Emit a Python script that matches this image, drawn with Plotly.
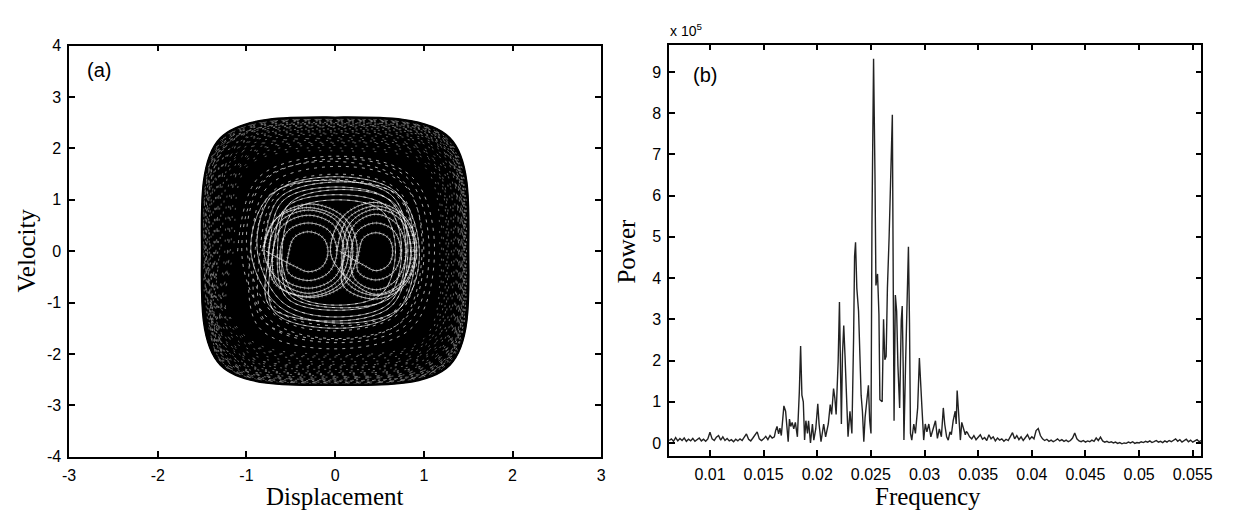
import plotly.graph_objects as go

# ---------------- Panel (a): phase portrait (displacement, velocity) ----------------
# Outermost orbit of the attractor (its envelope), traced clockwise
ENVELOPE_X = [-1.50, -1.29, 0.00, 1.29, 1.50, 1.29, 0.00, -1.29, -1.50]
ENVELOPE_V = [0.00, 2.20, 2.60, 2.20, 0.00, -2.21, -2.60, -2.21, 0.00]

# Outer (large) loops of the trajectory, traced clockwise, 8 samples per loop
OUTER_X = [
    -1.48, -1.26, 0.10, 1.25, 1.47, 1.25, -0.10, -1.26,
    -1.42, -1.21, -0.05, 1.22, 1.44, 1.22, 0.15, -1.21,
    -1.50, -1.28, 0.20, 1.26, 1.48, 1.26, 0.00, -1.28,
    -1.35, -1.15, 0.05, 1.19, 1.40, 1.19, -0.20, -1.15,
    -1.45, -1.23, -0.15, 1.24, 1.46, 1.24, 0.10, -1.23,
    -1.30, -1.11, 0.15, 1.14, 1.34, 1.14, -0.05, -1.11,
    -1.46, -1.24, 0.00, 1.21, 1.42, 1.21, 0.20, -1.24,
    -1.38, -1.17, 0.25, 1.23, 1.45, 1.23, -0.15, -1.17,
    -1.49, -1.27, -0.10, 1.27, 1.49, 1.27, 0.05, -1.27,
    -1.25, -1.06, 0.10, 1.09, 1.28, 1.09, -0.10, -1.06,
    -1.44, -1.22, -0.20, 1.17, 1.38, 1.17, 0.25, -1.22,
    -1.40, -1.19, 0.15, 1.25, 1.47, 1.25, 0.00, -1.19,
    -1.33, -1.13, -0.05, 1.16, 1.36, 1.16, 0.10, -1.13,
    -1.47, -1.25, 0.05, 1.23, 1.45, 1.23, -0.20, -1.25,
    -1.20, -1.02, 0.20, 1.04, 1.22, 1.04, 0.05, -1.02,
    -1.43, -1.22, -0.10, 1.20, 1.41, 1.20, 0.15, -1.22,
    -1.36, -1.16, 0.00, 1.22, 1.43, 1.22, -0.10, -1.16,
    -1.50, -1.28, 0.10, 1.24, 1.46, 1.24, 0.20, -1.28,
    -1.28, -1.09, -0.15, 1.11, 1.31, 1.11, 0.00, -1.09,
    -1.41, -1.20, 0.20, 1.26, 1.48, 1.26, -0.05, -1.20,
    -1.46, -1.24, -0.05, 1.18, 1.39, 1.18, 0.10, -1.24,
    -1.15, -0.98, 0.10, 1.00, 1.18, 1.00, -0.15, -0.98,
    -1.39, -1.18, 0.05, 1.21, 1.42, 1.21, 0.15, -1.18,
    -1.48, -1.26, -0.20, 1.28, 1.50, 1.28, -0.05, -1.26,
    -1.32, -1.12, 0.15, 1.08, 1.27, 1.08, 0.05, -1.12,
    -1.20, -1.02, -0.10, 1.06, 1.25, 1.06, 0.20, -1.02,
    -1.47, -1.25, 0.10, 1.22, 1.44, 1.22, -0.10, -1.25,
    -1.37, -1.16, 0.00, 1.18, 1.39, 1.18, 0.10, -1.16,
    -1.44, -1.22, 0.25, 1.27, 1.49, 1.27, -0.15, -1.22,
    -1.22, -1.04, -0.05, 1.07, 1.26, 1.07, 0.00, -1.04,
    -1.49, -1.27, 0.15, 1.22, 1.43, 1.22, 0.20, -1.27,
    -1.34, -1.14, -0.15, 1.13, 1.33, 1.13, 0.05, -1.14,
    -1.45, -1.23, 0.05, 1.25, 1.47, 1.25, -0.10, -1.23,
    -1.18, -1.00, 0.20, 1.02, 1.20, 1.02, 0.10, -1.00,
    -1.42, -1.21, -0.10, 1.24, 1.46, 1.24, 0.15, -1.21,
    -1.48, -1.26, 0.00, 1.23, 1.45, 1.23, -0.05, -1.26,
    -1.46,
]
OUTER_V = [
    0.05, 2.17, 2.55, 2.17, -0.05, -2.19, -2.58, -2.19,
    -0.10, 2.11, 2.48, 2.11, 0.10, -2.13, -2.50, -2.13,
    0.15, 2.19, 2.58, 2.19, -0.15, -2.17, -2.55, -2.17,
    0.00, 2.00, 2.35, 2.00, 0.20, -2.06, -2.42, -2.06,
    -0.20, 2.14, 2.52, 2.14, 0.00, -2.18, -2.56, -2.18,
    0.10, 1.91, 2.25, 1.91, -0.10, -1.96, -2.30, -1.96,
    0.20, 2.08, 2.45, 2.08, 0.05, -2.10, -2.47, -2.10,
    -0.05, 2.04, 2.40, 2.04, -0.20, -2.14, -2.52, -2.14,
    0.10, 2.18, 2.57, 2.18, 0.15, -2.20, -2.59, -2.20,
    -0.15, 1.83, 2.15, 1.83, 0.00, -1.87, -2.20, -1.87,
    0.05, 2.06, 2.42, 2.06, -0.15, -2.02, -2.38, -2.02,
    0.25, 2.13, 2.50, 2.13, 0.10, -2.08, -2.45, -2.08,
    -0.10, 1.96, 2.30, 1.96, 0.20, -1.98, -2.33, -1.98,
    0.00, 2.15, 2.53, 2.15, -0.05, -2.18, -2.57, -2.18,
    0.15, 1.74, 2.05, 1.74, -0.10, -1.79, -2.10, -1.79,
    -0.20, 2.07, 2.44, 2.07, 0.15, -2.11, -2.48, -2.11,
    0.05, 2.02, 2.38, 2.02, -0.20, -2.04, -2.40, -2.04,
    -0.05, 2.18, 2.56, 2.18, 0.05, -2.15, -2.53, -2.15,
    0.20, 1.87, 2.20, 1.87, 0.10, -1.91, -2.25, -1.91,
    -0.15, 2.10, 2.47, 2.10, -0.10, -2.17, -2.55, -2.17,
    0.10, 2.07, 2.43, 2.07, 0.20, -2.07, -2.44, -2.07,
    0.00, 1.66, 1.95, 1.66, 0.00, -1.70, -2.00, -1.70,
    -0.25, 2.01, 2.36, 2.01, -0.05, -2.01, -2.37, -2.01,
    0.10, 2.19, 2.58, 2.19, 0.10, -2.18, -2.57, -2.18,
    0.05, 1.85, 2.18, 1.85, -0.20, -1.89, -2.22, -1.89,
    -0.10, 1.79, 2.10, 1.79, 0.05, -1.74, -2.05, -1.74,
    0.15, 2.13, 2.50, 2.13, -0.15, -2.14, -2.52, -2.14,
    -0.05, 1.97, 2.32, 1.97, 0.25, -2.01, -2.36, -2.01,
    0.20, 2.16, 2.54, 2.16, 0.00, -2.13, -2.50, -2.13,
    -0.20, 1.80, 2.12, 1.80, -0.05, -1.83, -2.15, -1.83,
    0.00, 2.09, 2.46, 2.09, 0.15, -2.19, -2.58, -2.19,
    0.10, 1.94, 2.28, 1.94, -0.10, -1.93, -2.27, -1.93,
    -0.10, 2.17, 2.55, 2.17, 0.20, -2.16, -2.54, -2.16,
    0.05, 1.70, 2.00, 1.70, -0.15, -1.73, -2.03, -1.73,
    0.25, 2.12, 2.49, 2.12, 0.05, -2.09, -2.46, -2.09,
    -0.05, 2.18, 2.57, 2.18, -0.10, -2.18, -2.56, -2.18,
    0.00,
]

# Medium loops
MID_X = [
    -1.10, -0.86, 0.05, 0.87, 1.12, 0.87, -0.05, -0.86,
    -0.95, -0.74, 0.10, 0.78, 1.00, 0.78, 0.00, -0.74,
    -1.05, -0.82, -0.10, 0.76, 0.98, 0.76, 0.10, -0.82,
    -0.90, -0.70, 0.05, 0.72, 0.92, 0.72, -0.10, -0.70,
    -1.00, -0.78, 0.15, 0.83, 1.06, 0.83, 0.05, -0.78,
    -0.85, -0.66, -0.05, 0.69, 0.88, 0.69, 0.10, -0.66,
    -0.80, -0.62, 0.10, 0.74, 0.95, 0.74, 0.15, -0.62,
    -0.95, -0.74, -0.15, 0.64, 0.82, 0.64, -0.05, -0.74,
    -0.75, -0.59, 0.05, 0.62, 0.80, 0.62, 0.00, -0.59,
    -0.88, -0.69, 0.00, 0.70, 0.90, 0.70, 0.05, -0.69,
    -0.70, -0.55, 0.05, 0.59, 0.75, 0.59, 0.00, -0.55,
    -0.65, -0.51, 0.10, 0.66, 0.85, 0.66, 0.15, -0.51,
    -0.60, -0.47, 0.05, 0.53, 0.68, 0.53, 0.00, -0.47,
    -0.62,
]
MID_V = [
    0.00, 1.44, 1.85, 1.44, 0.10, -1.48, -1.90, -1.48,
    0.10, 1.29, 1.65, 1.29, -0.05, -1.33, -1.70, -1.33,
    -0.10, 1.37, 1.75, 1.37, 0.15, -1.34, -1.72, -1.34,
    0.05, 1.17, 1.50, 1.17, -0.10, -1.21, -1.55, -1.21,
    0.15, 1.40, 1.80, 1.40, 0.00, -1.39, -1.78, -1.39,
    -0.05, 1.09, 1.40, 1.09, 0.10, -1.13, -1.45, -1.13,
    0.10, 1.05, 1.35, 1.05, -0.10, -1.09, -1.40, -1.09,
    0.00, 1.08, 1.38, 1.08, 0.05, -1.06, -1.36, -1.06,
    -0.10, 0.98, 1.25, 0.98, 0.10, -1.00, -1.28, -1.00,
    0.05, 1.13, 1.45, 1.13, -0.05, -1.17, -1.50, -1.17,
    0.00, 0.86, 1.10, 0.86, 0.05, -0.90, -1.15, -0.90,
    0.05, 0.94, 1.20, 0.94, -0.05, -0.86, -1.10, -0.86,
    -0.05, 0.78, 1.00, 0.78, 0.05, -0.82, -1.05, -0.82,
    0.00,
]

# Small loops around the left centre
LEFT_X = [
    -0.82, -0.68, -0.31, 0.06, 0.20, 0.06, -0.31, -0.68,
    -0.75, -0.62, -0.30, 0.02, 0.15, 0.02, -0.30, -0.62,
    -0.80, -0.65, -0.28, 0.10, 0.25, 0.10, -0.28, -0.65,
    -0.70, -0.59, -0.30, -0.01, 0.10, -0.01, -0.30, -0.59,
    -0.62, -0.53, -0.30, -0.07, 0.02, -0.07, -0.30, -0.53,
    -0.52, -0.46, -0.30, -0.14, -0.08, -0.14, -0.30, -0.46,
    -0.78,
]
LEFT_V = [
    0.00, 0.61, 0.85, 0.61, 0.00, -0.63, -0.88, -0.63,
    0.05, 0.58, 0.80, 0.58, -0.05, -0.59, -0.82, -0.59,
    -0.05, 0.66, 0.92, 0.66, 0.05, -0.65, -0.90, -0.65,
    0.00, 0.50, 0.70, 0.50, 0.00, -0.52, -0.72, -0.52,
    0.00, 0.40, 0.55, 0.40, 0.00, -0.41, -0.57, -0.41,
    0.00, 0.27, 0.38, 0.27, 0.00, -0.29, -0.40, -0.29,
    0.00,
]

# Small loops around the right centre
RIGHT_X = [
    0.02, 0.14, 0.46, 0.78, 0.90, 0.78, 0.46, 0.14,
    0.08, 0.19, 0.47, 0.75, 0.86, 0.75, 0.47, 0.19,
    -0.05, 0.09, 0.44, 0.78, 0.92, 0.78, 0.44, 0.09,
    0.12, 0.22, 0.46, 0.70, 0.80, 0.70, 0.46, 0.22,
    0.18, 0.26, 0.46, 0.66, 0.74, 0.66, 0.46, 0.26,
    0.27, 0.32, 0.46, 0.60, 0.65, 0.60, 0.46, 0.32,
    0.05,
]
RIGHT_V = [
    0.00, 0.63, 0.88, 0.63, 0.00, -0.62, -0.86, -0.62,
    0.05, 0.59, 0.82, 0.59, -0.05, -0.60, -0.84, -0.60,
    -0.05, 0.68, 0.95, 0.68, 0.05, -0.67, -0.93, -0.67,
    0.00, 0.52, 0.72, 0.52, 0.00, -0.54, -0.75, -0.54,
    0.00, 0.40, 0.55, 0.40, 0.00, -0.40, -0.56, -0.40,
    0.00, 0.26, 0.36, 0.26, 0.00, -0.27, -0.38, -0.27,
    0.00,
]

# ---------------- Panel (b): power spectrum (power in units of 1e5) ----------------
FREQ = [
    0.0062, 0.0064, 0.0066, 0.0068, 0.0070, 0.0072, 0.0074, 0.0076, 0.0078,
    0.0080, 0.0082, 0.0084, 0.0086, 0.0088, 0.0090, 0.0092, 0.0094, 0.0096, 0.0098,
    0.0100, 0.0102, 0.0104, 0.0106, 0.0108, 0.0110, 0.0112, 0.0114, 0.0116, 0.0118,
    0.0120, 0.0122, 0.0124, 0.0126, 0.0128, 0.0130, 0.0132, 0.0134, 0.0136, 0.0138,
    0.0140, 0.0142, 0.0144, 0.0146, 0.0148, 0.0150, 0.0152, 0.0154, 0.0156, 0.0158,
    0.0160, 0.01612, 0.01625, 0.0164, 0.01652, 0.01665, 0.01677, 0.01689, 0.01705,
    0.01717, 0.01729, 0.01741, 0.01753, 0.01766, 0.01781, 0.01796, 0.01815, 0.01833,
    0.01845, 0.01857, 0.0187, 0.01882, 0.01894, 0.01909, 0.01919, 0.01937, 0.01955,
    0.01968, 0.01986, 0.02005, 0.02017, 0.02035, 0.02048, 0.0206, 0.02078, 0.0209,
    0.02103, 0.02121, 0.02134, 0.02152, 0.02164, 0.02176, 0.02195, 0.02207, 0.02219,
    0.02225, 0.02235, 0.02247, 0.02259, 0.02271, 0.02287, 0.02305, 0.02323, 0.02339,
    0.02348, 0.02357, 0.02369, 0.02385, 0.02397, 0.02409, 0.02421, 0.02434, 0.02446,
    0.02464, 0.02477, 0.02489, 0.02501, 0.0251, 0.02525, 0.02538, 0.02547, 0.02562,
    0.02575, 0.02584, 0.02605, 0.02618, 0.0263, 0.02642, 0.02654, 0.0267, 0.02679,
    0.02691, 0.0270, 0.02709, 0.02716, 0.02728, 0.0274, 0.02752, 0.02768, 0.02783,
    0.02792, 0.02801, 0.02808, 0.02823, 0.02838, 0.0285, 0.0286, 0.02869, 0.02881,
    0.0289, 0.0290, 0.02915, 0.02925, 0.02936, 0.02952, 0.02964, 0.02976, 0.02992,
    0.03007, 0.03022, 0.0304, 0.03059, 0.0307, 0.03083, 0.03102, 0.0312, 0.03138,
    0.03157, 0.03175, 0.03188, 0.03206, 0.03221, 0.03237, 0.0325, 0.03267, 0.03286,
    0.03295, 0.03304, 0.03316, 0.03334, 0.03347, 0.03365, 0.0338, 0.0339,
    0.0340, 0.0342, 0.0344, 0.0346, 0.0348, 0.0350, 0.0352, 0.0354, 0.0356, 0.0358,
    0.0360, 0.0362, 0.0364, 0.0366, 0.0368, 0.0370, 0.0372, 0.0374, 0.0376, 0.0378,
    0.0380, 0.0382, 0.0384, 0.0386, 0.0388, 0.0390, 0.0392, 0.0394, 0.0396, 0.0398,
    0.0400, 0.0402, 0.0404, 0.0406, 0.0408, 0.0410, 0.0412, 0.0414, 0.0416, 0.0418,
    0.0420, 0.0422, 0.0424, 0.0426, 0.0428, 0.0430, 0.0432, 0.0434, 0.0436, 0.0438,
    0.0440, 0.0442, 0.0444, 0.0446, 0.0448, 0.0450, 0.0452, 0.0454, 0.0456, 0.0458,
    0.0460, 0.0462, 0.0464, 0.0466, 0.0468, 0.0470, 0.0472, 0.0474, 0.0476, 0.0478,
    0.0480, 0.0482, 0.0484, 0.0486, 0.0488, 0.0490, 0.0492, 0.0494, 0.0496, 0.0498,
    0.0500, 0.0502, 0.0504, 0.0506, 0.0508, 0.0510, 0.0512, 0.0514, 0.0516, 0.0518,
    0.0520, 0.0522, 0.0524, 0.0526, 0.0528, 0.0530, 0.0532, 0.0534, 0.0536, 0.0538,
    0.0540, 0.0542, 0.0544, 0.0546, 0.0548, 0.0550, 0.0552, 0.0554, 0.0556, 0.0558,
]
POWER_E5 = [
    0.06, 0.10, 0.04, 0.13, 0.05, 0.11, 0.06, 0.12, 0.04,
    0.09, 0.05, 0.11, 0.04, 0.08, 0.12, 0.05, 0.09, 0.04, 0.10,
    0.26, 0.10, 0.06, 0.14, 0.18, 0.07, 0.15, 0.06, 0.11, 0.05,
    0.08, 0.03, 0.09, 0.05, 0.10, 0.06, 0.14, 0.22, 0.09, 0.05,
    0.12, 0.20, 0.27, 0.10, 0.06, 0.10, 0.16, 0.08, 0.18, 0.12,
    0.15, 0.30, 0.40, 0.22, 0.36, 0.18, 0.55, 0.90, 0.77,
    0.45, 0.03, 0.58, 0.40, 0.50, 0.34, 0.50, 0.15, 1.24,
    2.35, 1.16, 1.00, 0.07, 0.54, 0.23, 0.54, 0.00, 0.46,
    0.07, 0.34, 0.95, 0.46, 0.03, 0.30, 0.46, 0.15, 0.30,
    0.46, 0.93, 0.69, 1.32, 1.09, 0.69, 1.99, 3.42, 1.67,
    0.46, 2.14, 2.85, 2.10, 1.09, 0.15, 0.77, 0.23, 2.57,
    4.53, 4.87, 3.75, 3.20, 1.95, 1.16, 0.77, 0.03, 0.62,
    1.16, 1.40, 0.54, 0.23, 5.31, 9.32, 6.52, 3.82, 4.10,
    3.12, 1.05, 1.00, 3.00, 2.02, 2.10, 3.75, 5.00, 5.82,
    7.23, 7.96, 3.59, 0.54, 3.59, 3.20, 1.87, 0.85, 2.97,
    3.32, 1.87, 0.07, 1.87, 3.63, 4.76, 2.89, 0.23, 0.07,
    0.30, 0.46, 0.23, 0.50, 0.85, 2.06, 1.32, 0.85, 0.07,
    0.46, 0.27, 0.46, 0.15, 0.25, 0.34, 0.54, 0.11, 0.34,
    0.15, 0.85, 0.46, 0.15, 0.07, 0.27, 0.20, 0.54, 0.77,
    0.46, 1.27, 0.77, 0.07, 0.50, 0.34, 0.20, 0.28,
    0.25, 0.15, 0.10, 0.18, 0.08, 0.14, 0.20, 0.09, 0.13, 0.06,
    0.20, 0.10, 0.15, 0.05, 0.12, 0.07, 0.10, 0.04, 0.09, 0.06,
    0.14, 0.25, 0.10, 0.18, 0.08, 0.15, 0.06, 0.12, 0.20, 0.09,
    0.15, 0.10, 0.30, 0.35, 0.18, 0.10, 0.06, 0.09, 0.04, 0.07,
    0.03, 0.06, 0.10, 0.05, 0.08, 0.04, 0.07, 0.03, 0.06, 0.12,
    0.24, 0.10, 0.05, 0.03, 0.06, 0.02, 0.05, 0.03, 0.07, 0.04,
    0.12, 0.06, 0.14, 0.05, 0.02, 0.04, 0.01, 0.03, 0.00, 0.02,
    -0.01, 0.01, -0.02, 0.00, -0.01, 0.02, 0.00, 0.03, -0.01, 0.01,
    0.00, 0.03, 0.01, 0.04, 0.02, 0.05, 0.01, 0.03, 0.06, 0.02,
    0.04, 0.01, 0.05, 0.02, 0.06, 0.03, 0.07, 0.10, 0.04, 0.08,
    0.02, 0.06, 0.09, 0.03, 0.07, 0.02, 0.05, 0.08, 0.03, 0.06,
]

X_TICKS_A = [-3, -2, -1, 0, 1, 2, 3]
Y_TICKS_A = [-4, -3, -2, -1, 0, 1, 2, 3, 4]
X_TICKS_B = [0.01, 0.015, 0.02, 0.025, 0.03, 0.035, 0.04, 0.045, 0.05, 0.055]
X_TICKTEXT_B = ["0.01", "0.015", "0.02", "0.025", "0.03", "0.035", "0.04", "0.045", "0.05", "0.055"]
Y_TICKS_B = [0, 1, 2, 3, 4, 5, 6, 7, 8, 9]

W, H = 1234, 516
SANS = "Liberation Sans, Arial, sans-serif"
SERIF = "Liberation Serif, Times New Roman, serif"
TICKFONT = dict(family=SANS, size=16, color="black")
TITLEFONT = dict(family=SERIF, size=25, color="black")

fig = go.Figure()


def phase_trace(xs, vs, color, width, opacity=1.0, fill=None, fillcolor=None, dash="solid"):
    return go.Scatter(
        x=xs, y=vs, mode="lines", xaxis="x", yaxis="y",
        line=dict(color=color, width=width, shape="spline", smoothing=1.0, dash=dash),
        fill=fill, fillcolor=fillcolor,
        opacity=opacity, hoverinfo="skip", showlegend=False,
    )


# dense black body of the attractor (outermost orbit, filled)
fig.add_trace(phase_trace(ENVELOPE_X, ENVELOPE_V, "black", 1.5, fill="toself", fillcolor="black"))
# broken gaps between the densely packed orbits
fig.add_trace(phase_trace(OUTER_X, OUTER_V, "white", 0.8, opacity=0.5, dash="2px,9px"))
fig.add_trace(phase_trace(MID_X, MID_V, "white", 0.9, opacity=0.75, dash="3px,5px"))
# lighter core: thin crossing orbits
fig.add_trace(phase_trace(MID_X[48:], MID_V[48:], "white", 0.7, opacity=0.8))
fig.add_trace(phase_trace(LEFT_X, LEFT_V, "white", 0.8, opacity=0.9))
fig.add_trace(phase_trace(RIGHT_X, RIGHT_V, "white", 0.8, opacity=0.9))
fig.add_trace(phase_trace(LEFT_X, LEFT_V, "white", 3.0, opacity=0.35, dash="1px,3px"))
fig.add_trace(phase_trace(RIGHT_X, RIGHT_V, "white", 3.0, opacity=0.35, dash="1px,3px"))
# crisp outer edge
fig.add_trace(phase_trace(ENVELOPE_X, ENVELOPE_V, "black", 2.5))

fig.add_trace(go.Scatter(
    x=FREQ, y=POWER_E5, mode="lines", xaxis="x2", yaxis="y2",
    line=dict(color="#222222", width=1.4),
    hoverinfo="skip", showlegend=False,
))


def px_x(p):
    return p / W


def px_y(p):
    return 1 - p / H


axis_common = dict(
    ticks="inside", ticklen=6, tickwidth=1.5, tickcolor="black",
    showline=True, linewidth=1.5, linecolor="black", mirror="allticks",
    showgrid=False, zeroline=False, tickfont=TICKFONT,
)

fig.update_layout(
    width=W, height=H,
    margin=dict(l=0, r=0, t=0, b=0),
    paper_bgcolor="white", plot_bgcolor="white",
    xaxis=dict(domain=[px_x(63), px_x(603)], range=[-3, 3], anchor="y",
               tickvals=X_TICKS_A, ticktext=[str(v) for v in X_TICKS_A],
               ticklabelstandoff=3, **axis_common),
    yaxis=dict(domain=[px_y(464), px_y(39)], range=[-4, 4], anchor="x",
               tickvals=Y_TICKS_A, ticktext=[str(v) for v in Y_TICKS_A],
               ticklabelstandoff=3, **axis_common),
    xaxis2=dict(domain=[px_x(672), px_x(1212)], range=[0.0062, 0.0558], anchor="y2",
                tickvals=X_TICKS_B, ticktext=X_TICKTEXT_B,
                ticklabelstandoff=3, **axis_common),
    yaxis2=dict(domain=[px_y(463), px_y(38)], range=[-0.31, 9.66], anchor="x2",
                tickvals=Y_TICKS_B, ticktext=[str(v) for v in Y_TICKS_B],
                ticklabelstandoff=3, **axis_common),
    annotations=[
        dict(text="Velocity", x=px_x(20), y=px_y(251), xref="paper", yref="paper",
             textangle=-90, showarrow=False, font=TITLEFONT, xanchor="center", yanchor="middle"),
        dict(text="Displacement", x=px_x(333), y=px_y(505), xref="paper", yref="paper",
             showarrow=False, font=TITLEFONT, xanchor="center", yanchor="middle"),
        dict(text="Power", x=px_x(629), y=px_y(251), xref="paper", yref="paper",
             textangle=-90, showarrow=False, font=TITLEFONT, xanchor="center", yanchor="middle"),
        dict(text="Frequency", x=px_x(935), y=px_y(505), xref="paper", yref="paper",
             showarrow=False, font=TITLEFONT, xanchor="center", yanchor="middle"),
        dict(text="(a)", x=px_x(93), y=px_y(64), xref="paper", yref="paper",
             showarrow=False, font=dict(family=SANS, size=20, color="black"),
             xanchor="center", yanchor="middle"),
        dict(text="(b)", x=px_x(708), y=px_y(69), xref="paper", yref="paper",
             showarrow=False, font=dict(family=SANS, size=20, color="black"),
             xanchor="center", yanchor="middle"),
        dict(text="x 10<sup>5</sup>", x=px_x(671), y=px_y(23), xref="paper", yref="paper",
             showarrow=False, font=dict(family=SANS, size=14, color="black"),
             xanchor="left", yanchor="middle"),
    ],
)

fig.write_html("out.html")
